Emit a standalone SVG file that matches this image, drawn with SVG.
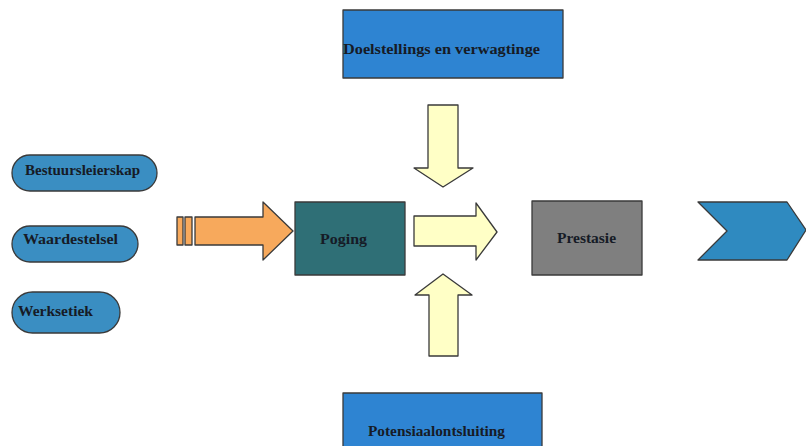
<svg xmlns="http://www.w3.org/2000/svg" width="806" height="446" viewBox="0 0 806 446">
  <style>
    .lbl { font-family: "Liberation Serif", "Times New Roman", serif; font-weight: bold; font-size: 15px; fill: #161b26; }
    .edge { stroke: #3a3a3a; stroke-width: 1.3; stroke-linejoin: round; }
    .pill { fill: #3a8ec2; }
    .box { fill: #2e84d2; }
    .yel { fill: #ffffc6; }
  </style>
  <rect width="806" height="446" fill="#ffffff"/>

  <!-- left-hand factors -->
  <g id="bestuursleierskap">
    <rect class="pill edge" x="12" y="155" width="145" height="36" rx="18"/>
    <text class="lbl" x="25" y="175" textLength="115" lengthAdjust="spacingAndGlyphs">Bestuursleierskap</text>
  </g>
  <g id="waardestelsel">
    <rect class="pill edge" x="12" y="226" width="126" height="36" rx="18"/>
    <text class="lbl" x="23" y="244" textLength="95" lengthAdjust="spacingAndGlyphs">Waardestelsel</text>
  </g>
  <g id="werksetiek">
    <rect class="pill edge" x="12" y="292" width="108" height="41" rx="20.5"/>
    <text class="lbl" x="18" y="316" textLength="75" lengthAdjust="spacingAndGlyphs">Werksetiek</text>
  </g>

  <!-- top and bottom inputs -->
  <g id="doelstellings">
    <rect class="box edge" x="343" y="10" width="220" height="68"/>
    <text class="lbl" x="343" y="54" textLength="197" lengthAdjust="spacingAndGlyphs">Doelstellings  en verwagtinge</text>
  </g>
  <g id="potensiaalontsluiting">
    <rect class="box edge" x="343" y="393" width="199" height="60"/>
    <text class="lbl" x="368" y="436" textLength="137" lengthAdjust="spacingAndGlyphs">Potensiaalontsluiting</text>
  </g>

  <!-- central process boxes -->
  <g id="poging">
    <rect class="edge" fill="#2f6f76" x="295" y="202" width="110" height="73"/>
    <text class="lbl" x="320" y="244" textLength="47" lengthAdjust="spacingAndGlyphs">Poging</text>
  </g>
  <g id="prestasie">
    <rect class="edge" fill="#7f7f7f" x="532" y="201" width="110" height="74"/>
    <text class="lbl" x="557" y="243" textLength="59" lengthAdjust="spacingAndGlyphs">Prestasie</text>
  </g>

  <!-- output chevron -->
  <g id="uitset">
    <polygon class="edge" fill="#2f8ac0" points="698,202 787,202 806,230 787,260 698,260 727,231"/>
  </g>

  <!-- block arrows -->
  <g id="connectors">
    <!-- striped orange arrow into Poging -->
    <rect class="edge" fill="#f7a95c" x="177" y="217" width="6" height="28"/>
    <rect class="edge" fill="#f7a95c" x="185" y="217" width="7" height="28"/>
    <polygon class="edge" fill="#f7a95c" points="195,217 263,217 263,202 293,231 263,260 263,245 195,245"/>
    <!-- arrow from Poging towards Prestasie -->
    <polygon class="yel edge" points="414,216 476,216 476,203 497,232 476,260 476,246 414,246"/>
    <!-- downward arrow from Doelstellings -->
    <polygon class="yel edge" points="428,105 458,105 458,168 473,168 443,187 414,168 428,168"/>
    <!-- upward arrow from Potensiaalontsluiting -->
    <polygon class="yel edge" points="443,274 472,295 458,295 458,356 429,356 429,295 415,295"/>
  </g>
</svg>
